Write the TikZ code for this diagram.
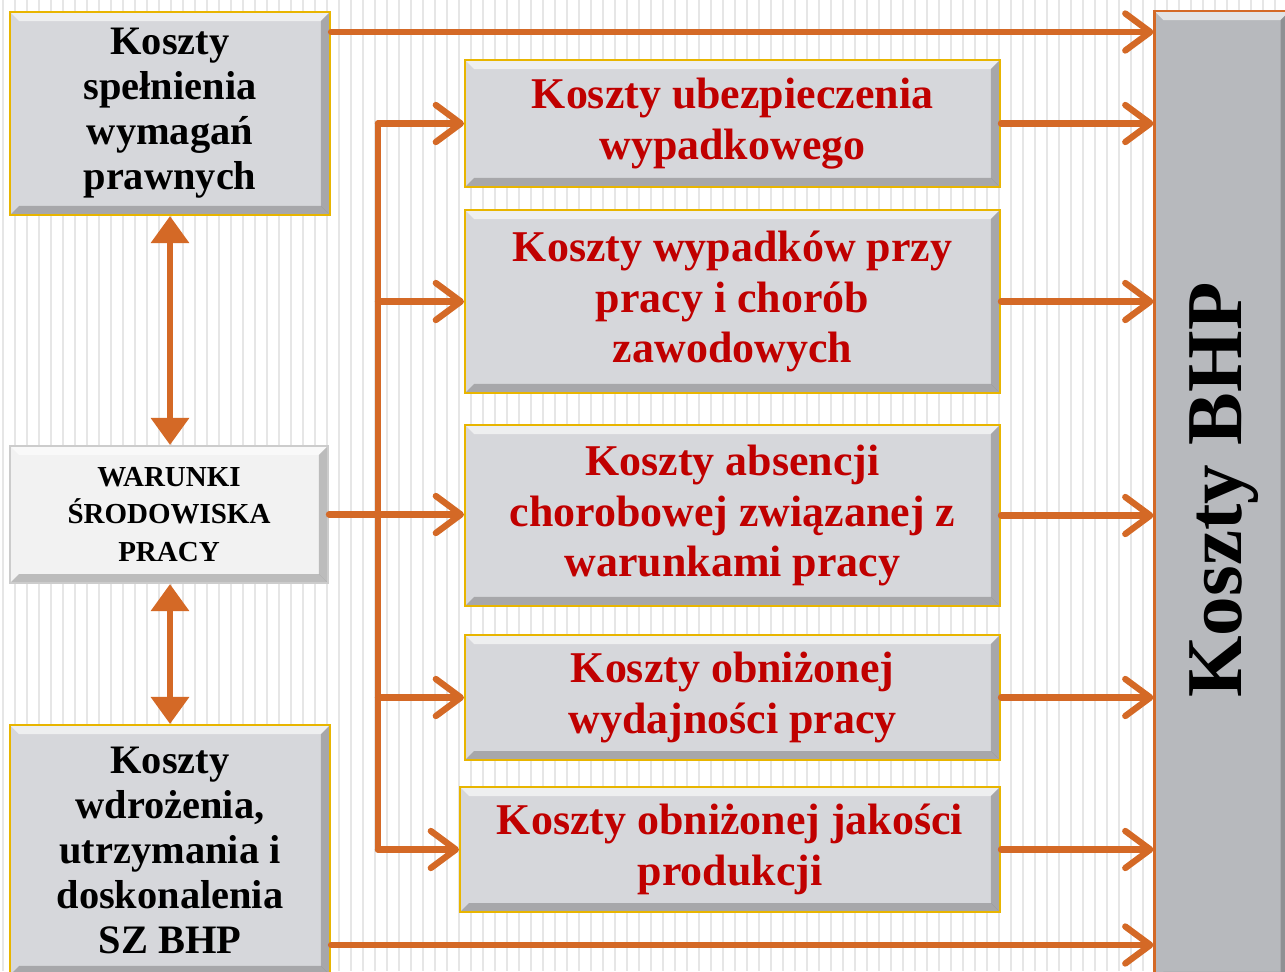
\documentclass[tikz,border=0pt]{standalone}
\usepackage{fontspec}
\setmainfont{Liberation Serif}
\usetikzlibrary{arrows.meta}
\definecolor{pomar}{RGB}{212,105,38}
\definecolor{czerw}{RGB}{192,0,0}
\definecolor{szary}{RGB}{214,215,219}
\definecolor{ciemny}{RGB}{183,185,189}
\definecolor{zloty}{RGB}{232,181,0}
\definecolor{pasek}{RGB}{230,230,230}
\tikzset{
    bevel/.style={path picture={
        \fill[white,opacity=.6] (path picture bounding box.north west) -- (path picture bounding box.north east)
            -- ([xshift=-.18cm,yshift=-.18cm]path picture bounding box.north east) -- ([xshift=.18cm,yshift=-.18cm]path picture bounding box.north west) -- cycle;
        \fill[black,opacity=.22] (path picture bounding box.south west) -- (path picture bounding box.south east)
            -- ([xshift=-.18cm,yshift=.18cm]path picture bounding box.south east) -- ([xshift=.18cm,yshift=.18cm]path picture bounding box.south west) -- cycle;
        \fill[black,opacity=.22] (path picture bounding box.south east) -- (path picture bounding box.north east)
            -- ([xshift=-.18cm,yshift=-.18cm]path picture bounding box.north east) -- ([xshift=-.18cm,yshift=.18cm]path picture bounding box.south east) -- cycle;
    }},
    box/.style={draw=zloty,line width=1.2pt,fill=szary,bevel,align=center,inner sep=0pt,font=\bfseries\fontsize{23}{25.6}\selectfont},
    redbox/.style={box,text=czerw,minimum width=10.7cm,font=\bfseries\fontsize{25}{29}\selectfont},
    flow/.style={draw=pomar,line width=3.6pt,line cap=round,-{Straight Barb[length=.5cm,width=.74cm,round]}},
    both/.style={draw=pomar,line width=3.6pt,{Triangle[length=.54cm,width=.74cm]}-{Triangle[length=.54cm,width=.74cm]}},
}
\begin{document}
\begin{tikzpicture}[x=.02cm,y=-.02cm]
    \clip (0,0) rectangle (1285,971);
    \fill[white] (0,0) rectangle (1285,971);
    \foreach \x in {3,15,...,1285}
        \draw[pasek,line width=.8pt] (\x,0) -- (\x,971);
    \node[box,minimum width=6.4cm,minimum height=4.06cm] (praw) at (170,113.5) {Koszty\\spełnienia\\wymagań\\prawnych};
    \node[box,draw=black!20,fill=black!5,minimum width=6.36cm,minimum height=2.74cm,font=\bfseries\fontsize{16.5}{21.5}\selectfont] (war) at (169,514.5) {WARUNKI\\ŚRODOWISKA\\PRACY};
    \node[box,minimum width=6.4cm,minimum height=5cm] (wdr) at (170,850) {Koszty\\wdrożenia,\\utrzymania i\\doskonalenia\\SZ BHP};
    \node[box,draw=pomar,fill=ciemny,minimum width=2.7cm,minimum height=19.4cm] (bhp) at (1222,496) {};
    \node[rotate=90,font=\bfseries\fontsize{45}{50}\selectfont] (bhptxt) at (1224,490) {Koszty BHP};
    \node[redbox,minimum height=2.54cm] (ubez) at (732.5,123.5) {Koszty ubezpieczenia\\wypadkowego};
    \node[redbox,minimum height=3.66cm] (wyp) at (732.5,301.5) {Koszty wypadków przy\\pracy i chorób\\zawodowych};
    \node[redbox,minimum height=3.62cm] (abs) at (732.5,515.5) {Koszty absencji\\chorobowej związanej z\\warunkami pracy};
    \node[redbox,minimum height=2.5cm] (wyd) at (732.5,697.5) {Koszty obniżonej\\wydajności pracy};
    \node[redbox,minimum width=10.8cm,minimum height=2.5cm] (jak) at (730,849.5) {Koszty obniżonej jakości\\produkcji};
    \coordinate (bus) at (378,0);
    \draw[draw=pomar,line width=3.6pt,line cap=round] (bus |- ubez.west) -- (bus |- jak.west);
    \foreach \n in {ubez,wyp,wyd,jak}
        \draw[flow] (bus |- \n.west) -- (\n.west);
    \draw[flow] (war.east) -- (war.east -| abs.west);
    \foreach \n in {ubez,wyp,abs,wyd,jak}
        \draw[flow] (\n.east) -- (\n.east -| bhp.west);
    \draw[flow] (praw.east |- 0,32) -- (bhp.west |- 0,32);
    \draw[flow] (wdr.east |- 0,945) -- (bhp.west |- 0,945);
    \draw[both] (praw.south) -- (praw.south |- war.north);
    \draw[both] (praw.south |- war.south) -- (praw.south |- wdr.north);
\end{tikzpicture}
\end{document}
